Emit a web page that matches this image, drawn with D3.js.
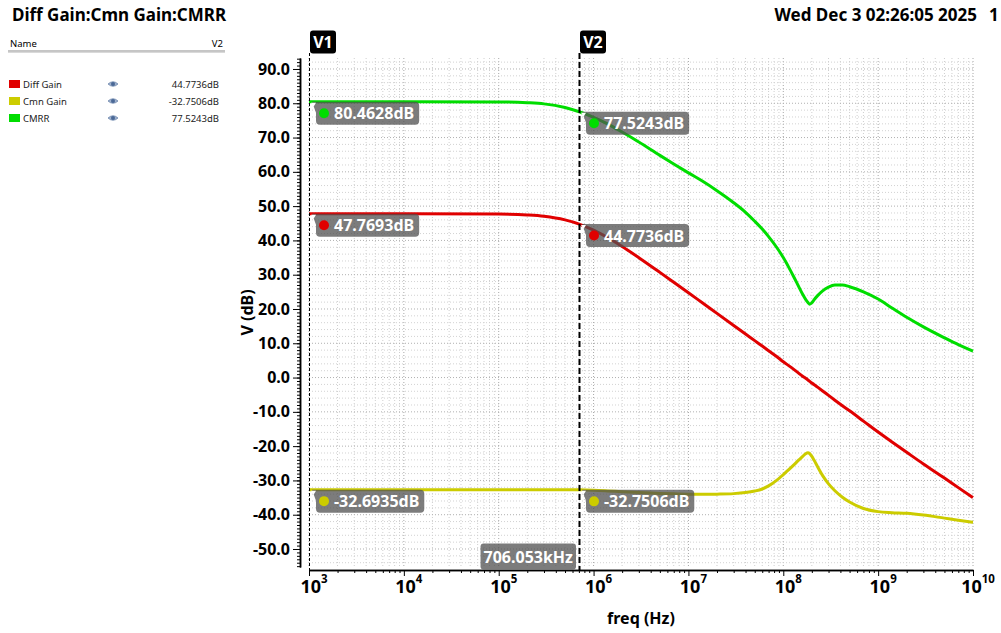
<!DOCTYPE html>
<html>
<head>
<meta charset="utf-8">
<script src="https://cdn.jsdelivr.net/npm/d3@7"></script>
<style>
  html, body { margin: 0; padding: 0; background: #fff; }
  svg { display: block; font-family: "Noto Sans", "DejaVu Sans", sans-serif; }
</style>
</head>
<body>
<svg id="chart" width="1001" height="633"></svg>
<script>
// ---------------- data ----------------
const titleText = "Diff Gain:Cmn Gain:CMRR";
const dateText = "Wed Dec 3 02:26:05 2025";
const pageText = "1";

const seriesNames = ["Diff Gain", "Cmn Gain", "CMRR"];
const seriesColors = ["#e00000", "#cccc00", "#00dd00"];
const legendValues = ["44.7736dB", "-32.7506dB", "77.5243dB"];

const freqs = [1e3, 1e4, 1e5, 2e5, 3e5, 5e5, 706053, 1e6, 1.4e6, 2e6, 3e6, 5e6, 7e6, 1e7,
               1.4e7, 2e7, 3e7, 4e7, 5e7, 6e7, 7e7, 8.5e7, 1e8, 1.15e8, 1.3e8, 1.45e8, 1.6e8,
               1.72e8, 1.82e8, 1.9e8, 2e8, 2.1e8, 2.3e8, 2.6e8, 3e8, 3.5e8, 4.2e8, 5e8, 7e8,
               1e9, 1.4e9, 2e9, 3e9, 5e9, 7e9, 1e10];
const diffGain = [47.77, 47.77, 47.69, 47.43, 47.05, 46.0, 44.77, 42.99, 40.84, 38.22, 34.97, 30.68, 27.8, 24.73,
                  21.81, 18.72, 15.2, 12.7, 10.77, 9.18, 7.84, 6.16, 4.6, 3.4, 2.3, 1.3, 0.4,
                  -0.2, -0.7, -1.1, -1.6, -2.0, -2.8, -3.9, -5.2, -6.6, -8.2, -9.7, -12.7,
                  -15.9, -18.8, -21.8, -25.2, -29.3, -32.1, -35.0];
const cmnGain = [-32.69, -32.69, -32.70, -32.71, -32.72, -32.74, -32.75, -32.85, -33.05, -33.3, -33.55, -33.8, -33.9, -34.0,
                 -34.05, -34.0, -33.85, -33.55, -33.1, -32.5, -31.6, -30.0, -28.3, -26.8, -25.4, -24.1, -23.0,
                 -22.2, -21.9, -22.2, -23.0, -24.0, -26.0, -28.6, -31.0, -33.0, -34.9, -36.3, -38.2,
                 -39.1, -39.4, -39.6, -40.1, -41.0, -41.6, -42.2];
const cmrr = [80.46, 80.46, 80.39, 80.16, 79.82, 78.74, 77.52, 75.9, 74.0, 71.6, 68.7, 64.8, 62.3, 59.7,
              57.3, 54.5, 51.0, 48.2, 45.6, 43.3, 41.1, 38.0, 35.0, 32.0, 29.2, 26.6, 24.3,
              22.8, 21.9, 21.4, 21.8, 22.6, 23.9, 25.3, 26.4, 27.0, 27.0, 26.5, 25.0,
              22.9, 20.3, 17.6, 14.8, 11.6, 9.6, 7.7];
const seriesValues = [diffGain, cmnGain, cmrr];

const cursorNames = ["V1", "V2"];
const cursorFreqs = [1000, 706053];
const v1Labels = [47.7693, -32.6935, 80.4628];
const v2Labels = [44.7736, -32.7506, 77.5243];
const cursorFreqLabel = "706.053kHz";

const yTickValues = [-50, -40, -30, -20, -10, 0, 10, 20, 30, 40, 50, 60, 70, 80, 90];
const xDecades = [1e3, 1e4, 1e5, 1e6, 1e7, 1e8, 1e9, 1e10];
const xExponents = ["3", "4", "5", "6", "7", "8", "9", "10"];
const xLabel = "freq (Hz)";
const yLabel = "V (dB)";

// ---------------- layout ----------------
const svg = d3.select("#chart");
const plotL = 309, plotR = 973, plotT = 58, plotB = 567;
const x = d3.scaleLog().domain([1e3, 1e10]).range([plotL, plotR]);
const y = d3.scaleLinear().domain([-55.25, 93.2]).range([plotB, plotT]);

// title / date
svg.append("text").attr("x", 12).attr("y", 21).attr("font-size", 17).attr("font-weight", "bold")
  .text(titleText);
svg.append("text").attr("x", 977).attr("y", 21).attr("font-size", 17).attr("font-weight", "bold")
  .attr("text-anchor", "end").text(dateText);
svg.append("text").attr("x", 989).attr("y", 21).attr("font-size", 17).attr("font-weight", "bold")
  .text(pageText);

// legend panel
svg.append("text").attr("x", 10).attr("y", 47).attr("font-size", 9.5).text("Name");
svg.append("text").attr("x", 223).attr("y", 47).attr("font-size", 9.5).attr("text-anchor", "end").text("V2");
svg.append("line").attr("x1", 8).attr("x2", 225).attr("y1", 51).attr("y2", 51).attr("stroke", "#8c8c8c").attr("stroke-width", 1.2);
svg.append("line").attr("x1", 8).attr("x2", 225).attr("y1", 52.2).attr("y2", 52.2).attr("stroke", "#c8c8c8").attr("stroke-width", 1);
const legendOrder = [0, 1, 2];
legendOrder.forEach((si, i) => {
  const cy = 84 + i * 17;
  svg.append("rect").attr("x", 9).attr("y", cy - 4).attr("width", 11).attr("height", 8).attr("fill", seriesColors[si]);
  svg.append("text").attr("x", 23).attr("y", cy + 3.5).attr("font-size", 9.5).attr("fill", "#222").text(seriesNames[si]);
  const eg = svg.append("g").attr("transform", `translate(113,${cy})`);
  eg.append("path").attr("d", "M-5,0 Q0,-4.5 5,0 Q0,4.5 -5,0 Z").attr("fill", "#9fb1cc").attr("stroke", "#6d86ad").attr("stroke-width", 0.8);
  eg.append("circle").attr("r", 2).attr("fill", "#4a6896");
  svg.append("text").attr("x", 219).attr("y", cy + 3.5).attr("font-size", 9.5).attr("fill", "#222")
    .attr("text-anchor", "end").text(legendValues[si]);
});

// grid
const grid = svg.append("g");
const minorX = [];
for (let e = 3; e < 10; e++) for (let m = 2; m <= 9; m++) minorX.push(m * Math.pow(10, e));
grid.selectAll(".gxm").data(minorX).join("line")
  .attr("x1", d => x(d)).attr("x2", d => x(d)).attr("y1", plotT).attr("y2", plotB)
  .attr("stroke", "#cfcfcf").attr("stroke-dasharray", "1,2");
grid.selectAll(".gxM").data(xDecades).join("line")
  .attr("x1", d => x(d)).attr("x2", d => x(d)).attr("y1", plotT).attr("y2", plotB)
  .attr("stroke", "#a8a8a8").attr("stroke-dasharray", "1,2");
const gridY = d3.range(-54, 93, 2);
grid.selectAll(".gy").data(gridY).join("line")
  .attr("x1", plotL).attr("x2", plotR).attr("y1", d => y(d)).attr("y2", d => y(d))
  .attr("stroke", d => d % 10 === 0 ? "#b0b0b0" : "#d2d2d2").attr("stroke-dasharray", "1,2");

// y axis
const yMinor = svg.append("g").attr("transform", "translate(300,0)")
  .call(d3.axisLeft(y).tickValues(d3.range(-55, 94, 1)).tickSize(3).tickSizeOuter(0).tickFormat(""));
const yMajor = svg.append("g").attr("transform", "translate(300,0)")
  .call(d3.axisLeft(y).tickValues(yTickValues).tickSize(7).tickSizeOuter(0).tickPadding(3)
    .tickFormat(d => d.toFixed(1)));
[yMinor, yMajor].forEach(g => {
  g.selectAll("path.domain").attr("stroke", "#000").attr("stroke-width", 1.5);
  g.selectAll(".tick line").attr("stroke", "#000");
});
yMajor.selectAll("text").attr("font-size", 16).attr("font-weight", "bold").attr("fill", "#000")
  .attr("font-family", "Noto Sans");

// x axis
const xAxisY = 570;
const xMinorG = svg.append("g").attr("transform", `translate(0,${xAxisY})`)
  .call(d3.axisBottom(x).tickValues(minorX).tickSize(3).tickSizeOuter(0).tickFormat(""));
const xMajorG = svg.append("g").attr("transform", `translate(0,${xAxisY})`)
  .call(d3.axisBottom(x).tickValues(xDecades).tickSize(6).tickSizeOuter(0).tickFormat(""));
[xMinorG, xMajorG].forEach(g => {
  g.selectAll("path.domain").attr("stroke", "#000").attr("stroke-width", 1.5);
  g.selectAll(".tick line").attr("stroke", "#000");
});
xDecades.forEach((d, i) => {
  const t = svg.append("text").attr("x", x(d) + 5).attr("y", 593).attr("text-anchor", "middle")
    .attr("font-weight", "bold").attr("font-size", 18);
  t.append("tspan").text("10");
  t.append("tspan").attr("dy", -10).attr("font-size", 11.5).text(xExponents[i]);
});

// axis titles
svg.append("text").attr("x", (plotL + plotR) / 2).attr("y", 624).attr("text-anchor", "middle")
  .attr("font-size", 16).attr("font-weight", "bold").text(xLabel);
svg.append("text").attr("transform", `translate(253,${(plotT + plotB) / 2}) rotate(-90)`)
  .attr("text-anchor", "middle").attr("font-size", 16).attr("font-weight", "bold").text(yLabel);

// curves
const line = d3.line().x(d => x(d[0])).y(d => y(d[1])).curve(d3.curveMonotoneX);
[1, 0, 2].forEach(si => {
  svg.append("path").datum(freqs.map((f, i) => [f, seriesValues[si][i]]))
    .attr("d", line).attr("fill", "none").attr("stroke", seriesColors[si]).attr("stroke-width", 3)
    .attr("stroke-linejoin", "round");
});

// cursors
cursorFreqs.forEach((f, ci) => {
  const cx = Math.round(x(f)) + 0.5;
  svg.append("line").attr("x1", cx).attr("x2", cx).attr("y1", 53).attr("y2", xAxisY)
    .attr("stroke", "#000").attr("stroke-width", ci === 0 ? 1 : 2)
    .attr("stroke-dasharray", ci === 0 ? "3,2" : "6,3");
  svg.append("rect").attr("x", cx + 0.5).attr("y", 30.5).attr("width", 26).attr("height", 23).attr("rx", 3)
    .attr("fill", "#000");
  svg.append("text").attr("x", cx + 13.5).attr("y", 48).attr("text-anchor", "middle")
    .attr("fill", "#fff").attr("font-size", 16).attr("font-weight", "bold").text(cursorNames[ci]);
});

// marker labels
function markerLabel(px, py, color, txt) {
  const g = svg.append("g");
  const path = g.append("path");
  const tri = g.append("path");
  g.append("circle").attr("cx", px + 14).attr("cy", py + 11.5).attr("r", 5).attr("fill", color);
  const t = g.append("text").attr("x", px + 24).attr("y", py + 17.5).attr("fill", "#fff")
    .attr("font-size", 16).attr("font-weight", "bold").text(txt);
  const W = 24 + t.node().getComputedTextLength() + 5;
  const H = 23, r = 4;
  path.attr("d", `M${px + 2},${py} L${px + W - r},${py} Q${px + W},${py} ${px + W},${py + r}
     L${px + W},${py + H - r} Q${px + W},${py + H} ${px + W - r},${py + H}
     L${px + 6 + r},${py + H} Q${px + 6},${py + H} ${px + 6},${py + H - r}
     L${px + 6},${py + 11} Z`)
    .attr("fill", "#505050").attr("fill-opacity", 0.75);
  tri.attr("d", `M${px + 1},${py + 1} L${px + 6},${py + 1} L${px + 3.5},${py + 5} Z`).attr("fill", "#fff");
}
const cursorLabelSets = [v1Labels, v2Labels];
cursorFreqs.forEach((f, ci) => {
  const px = Math.round(x(f));
  cursorLabelSets[ci].forEach((v, si) => {
    markerLabel(px + 1, y(v), seriesColors[si], v.toFixed(4) + "dB");
  });
});

// cursor frequency label
(function () {
  const cx = Math.round(x(cursorFreqs[1]));
  const g = svg.append("g");
  const r = g.append("rect");
  const t = g.append("text").attr("x", cx - 6).attr("y", 563).attr("text-anchor", "end")
    .attr("fill", "#fff").attr("font-size", 16).attr("font-weight", "bold").text(cursorFreqLabel);
  const w = t.node().getComputedTextLength();
  r.attr("x", cx - 9 - w).attr("y", 543.5).attr("width", w + 6).attr("height", 26).attr("rx", 3)
    .attr("fill", "#505050").attr("fill-opacity", 0.75);
})();
</script>
</body>
</html>
